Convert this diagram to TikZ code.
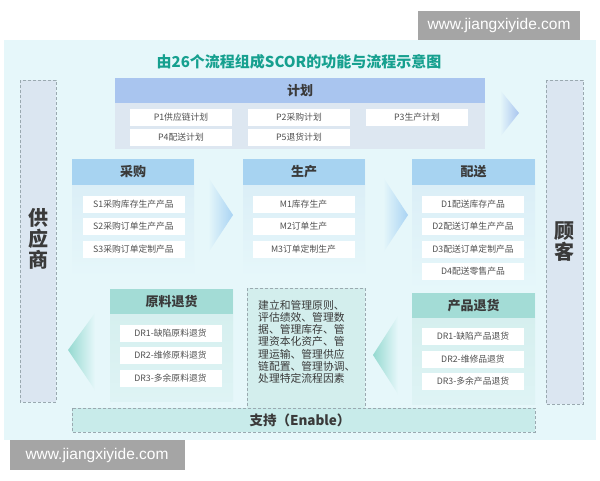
\documentclass[tikz,border=0pt]{standalone}
\usepackage{fontspec}
\setmainfont{Noto Sans CJK SC}
\newfontfamily\wmfont{Liberation Sans}
\usetikzlibrary{positioning}

\definecolor{panelbg}{HTML}{E6F7FA}
\definecolor{titlecol}{HTML}{16A08F}
\definecolor{planhead}{HTML}{A9C5EF}
\definecolor{planbody}{HTML}{DDE7F1}
\definecolor{headblue}{HTML}{A7D3F1}
\definecolor{bodyblue}{HTML}{D8ECF6}
\definecolor{headteal}{HTML}{A3DCD6}
\definecolor{bodyteal}{HTML}{D3EEED}
\definecolor{dashgray}{HTML}{9AA9B0}
\definecolor{sidebox}{HTML}{DBE6F1}
\definecolor{chevblue}{HTML}{A9D3F3}
\definecolor{chevteal}{HTML}{95D9D0}
\definecolor{txtgray}{HTML}{3A3A3A}
\definecolor{itemtxt}{HTML}{505050}
\definecolor{wmgray}{HTML}{A5A5A5}

\tikzset{
  item/.style={fill=white,minimum width=102pt,minimum height=17pt,inner sep=0pt,
    font=\fontsize{8.8}{10}\selectfont,text=itemtxt},
  headtext/.style={font=\fontsize{13}{15}\selectfont\bfseries,text=txtgray},
  sidetext/.style={font=\fontsize{20}{22}\selectfont\bfseries,text=txtgray,align=center},
  dashbox/.style={draw=dashgray,densely dashed,line width=0.5pt},
  watermark/.style={fill=wmgray,text=white,font=\wmfont\fontsize{15.5}{17}\selectfont,inner sep=0pt}
}

\begin{document}
\begin{tikzpicture}[x=1pt,y=-1pt]
 \useasboundingbox (0,0) rectangle (600,480);
 \fill[white] (0,0) rectangle (600,480);
 \fill[panelbg] (4,40) rectangle (596,440);
 % watermarks
 \node[watermark,minimum width=162pt,minimum height=29pt] (wmtop) at (499,25) {www.jiangxiyide.com};
 \node[watermark,minimum width=175pt,minimum height=30pt] (wmbot) at (97,455) {www.jiangxiyide.com};
 % title
 \node[font=\fontsize{15}{17}\selectfont\bfseries,text=titlecol] (title) at (299,62) {由26个流程组成SCOR的功能与流程示意图};

 % supplier and customer
 \fill[sidebox,dashbox] (20,80) rectangle (56,402);
 \node[sidetext] (supplier) at (38,239) {供\\[-1pt]应\\[-1pt]商};
 \fill[sidebox,dashbox] (546,80) rectangle (583,404);
 \node[sidetext] (customer) at (564,242) {顾\\[-1pt]客};

 % plan
 \fill[planbody] (115,78) rectangle (485,149);
 \fill[planhead] (115,78) rectangle (485,103);
 \node[headtext] (plan) at (300,90.5) {计划};
 \node[item] (p1) at (181,117.5) {P1供应链计划};
 \node[item] (p2) at (299,117.5) {P2采购计划};
 \node[item] (p3) at (417,117.5) {P3生产计划};
 \node[item] (p4) at (181,137.5) {P4配送计划};
 \node[item] (p5) at (299,137.5) {P5退货计划};
 \shade[left color=panelbg,right color=planhead] (500,90) -- (519,113) -- (500,137) -- cycle;

 % source
 \shade[top color=bodyblue,bottom color=panelbg] (72,159) rectangle (194,278);
 \fill[headblue] (72,159) rectangle (194,185);
 \node[headtext] (source) at (133,172) {采购};
 \node[item] (s1) at (133.5,204.5) {S1采购库存生产产品};
 \node[item] (s2) at (133.5,226.5) {S2采购订单生产产品};
 \node[item] (s3) at (133.5,249) {S3采购订单定制产品};
 \shade[left color=panelbg,right color=chevblue] (208,177) -- (233,215) -- (208,253) -- cycle;

 % make
 \shade[top color=bodyblue,bottom color=panelbg] (243,159) rectangle (365,278);
 \fill[headblue] (243,159) rectangle (365,185);
 \node[headtext] (make) at (304,172) {生产};
 \node[item] (m1) at (303.5,204.5) {M1库存生产};
 \node[item] (m2) at (303.5,226.5) {M2订单生产};
 \node[item] (m3) at (303.5,249) {M3订单定制生产};
 \shade[left color=panelbg,right color=chevblue] (383,177) -- (408,215) -- (383,253) -- cycle;

 % deliver
 \shade[top color=bodyblue,bottom color=panelbg] (412,159) rectangle (535,290);
 \fill[headblue] (412,159) rectangle (535,185);
 \node[headtext] (deliver) at (473.5,172) {配送};
 \node[item] (d1) at (473,204.5) {D1配送库存产品};
 \node[item] (d2) at (473,226) {D2配送订单生产产品};
 \node[item] (d3) at (473,249.5) {D3配送订单定制产品};
 \node[item] (d4) at (473,271) {D4配送零售产品};

 % source return
 \shade[left color=chevteal,right color=panelbg] (68,350) -- (95,313) -- (95,390) -- cycle;
 \shade[top color=bodyteal,bottom color=panelbg!60!bodyteal] (110,289) rectangle (233,401);
 \fill[headteal] (110,289) rectangle (233,314);
 \node[headtext] (sreturn) at (171.5,301.5) {原料退货};
 \node[item] (sr1) at (170.5,333) {DR1-缺陷原料退货};
 \node[item] (sr2) at (170.5,355.5) {DR2-维修原料退货};
 \node[item] (sr3) at (170.5,378.5) {DR3-多余原料退货};

 % enable text
 \fill[bodyteal,dashbox] (247,288) rectangle (365,408);
 \node[font=\fontsize{10.8}{12.2}\selectfont,text=txtgray,align=left,anchor=north west,inner sep=0pt] (enabletxt) at (258,300)
  {建立和管理原则、\\评估绩效、管理数\\据、管理库存、管\\理资本化资产、管\\理运输、管理供应\\链配置、管理协调、\\处理特定流程因素};

 % deliver return
 \shade[left color=chevteal,right color=panelbg] (373,355) -- (398,316) -- (398,394) -- cycle;
 \shade[top color=bodyteal,bottom color=panelbg!60!bodyteal] (412,293) rectangle (535,404);
 \fill[headteal] (412,293) rectangle (535,318);
 \node[headtext] (dreturn) at (473.5,305.5) {产品退货};
 \node[item] (dr1) at (473,336.5) {DR1-缺陷产品退货};
 \node[item] (dr2) at (473,359) {DR2-维修品退货};
 \node[item] (dr3) at (473,381.5) {DR3-多余产品退货};

 % enable bar
 \fill[headteal!45!panelbg,dashbox] (72,408) rectangle (535,432);
 \node[font=\fontsize{13.5}{15}\selectfont\bfseries,text=txtgray] (enable) at (300,420) {支持（Enable）};
\end{tikzpicture}
\end{document}
